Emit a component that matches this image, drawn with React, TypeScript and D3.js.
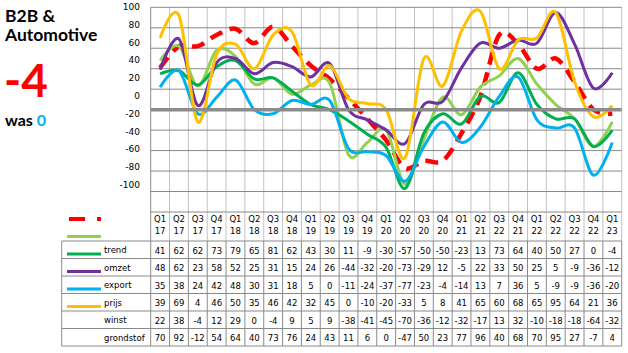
import * as d3 from 'd3';

const categories = [
  'Q1 17', 'Q2 17', 'Q3 17', 'Q4 17', 'Q1 18', 'Q2 18', 'Q3 18', 'Q4 18', 'Q1 19', 'Q2 19', 'Q3 19', 'Q4 19',
  'Q1 20', 'Q2 20', 'Q3 20', 'Q4 20', 'Q1 21', 'Q2 21', 'Q3 22', 'Q4 21', 'Q1 22', 'Q2 22', 'Q3 22', 'Q4 22', 'Q1 23',
];

const trend = [41, 62, 62, 73, 79, 65, 81, 62, 43, 30, 11, -9, -30, -57, -50, -50, -23, 13, 73, 64, 40, 50, 27, 0, -4];
const omzet = [48, 62, 23, 58, 52, 25, 31, 15, 24, 26, -44, -32, -20, -73, -29, 12, -5, 22, 33, 50, 25, 5, -9, -36, -12];
const exportV = [35, 38, 24, 42, 48, 30, 31, 18, 5, 0, -11, -24, -37, -77, -23, -4, -14, 13, 7, 36, 5, -9, -9, -36, -20];
const prijs = [39, 69, 4, 46, 50, 35, 46, 42, 32, 45, 0, -10, -20, -33, 5, 8, 41, 65, 60, 68, 65, 95, 64, 21, 36];
const winst = [22, 38, -4, 12, 29, 0, -4, 9, 5, 9, -38, -41, -45, -70, -36, -12, -32, -17, 13, 32, -10, -18, -18, -64, -32];
const grondstof = [70, 92, -12, 54, 64, 40, 73, 76, 24, 43, 11, 6, 0, -47, 50, 23, 77, 96, 40, 68, 70, 95, 27, -7, 4];

const tableRows = ['trend', 'omzet', 'export', 'prijs', 'winst', 'grondstof'];
const tableValues = [trend, omzet, exportV, prijs, winst, grondstof];
const axisLabels = [100, 80, 60, 40, 20, 0, -20, -40, -60, -80, -100];

// plotted series, in Excel draw order
const series = [
  { name: 'trend', values: trend, color: '#FF0000', dashed: true },
  { name: 'omzet', values: omzet, color: '#92D050' },
  { name: 'export', values: exportV, color: '#00B050' },
  { name: 'prijs', values: prijs, color: '#7030A0' },
  { name: 'winst', values: winst, color: '#00B0F0' },
  { name: 'grondstof', values: grondstof, color: '#FFC000' },
];

const W = 628;
const H = 353;
const PLOT_L = 150.7;
const PLOT_R = 621.7;
const PLOT_T = 7.3;
const PLOT_B = 212;
const TABLE_T = 241;
const ROW_H = 17.5;
const LABEL_L = 61.7;
const GRID_H = '#898989';
const GRID_V = '#C3C3C3';
const BORDER = '#8A8A8A';
const TEXT_FONT = 'DejaVu Sans, sans-serif';

export default function App() {
  // index domain: the category texts are not unique ("Q3 22" appears twice)
  const x = d3
    .scaleBand<number>()
    .domain(categories.map((_, i) => i))
    .range([PLOT_L, PLOT_R]);
  const cx = (i: number) => x(i)! + x.bandwidth() / 2;
  const y = d3.scaleLinear().domain([-100, 100]).range([PLOT_B, PLOT_T]);
  // the value labels on the left were a separate text column and sit off the grid
  const labelY = d3.scaleLinear().domain([100, -100]).range([6.7, 185]);

  const line = d3
    .line<number>()
    .x((_, i) => cx(i))
    .y((d) => y(d))
    .curve(d3.curveCardinal.tension(0));

  const gridValues = y.ticks(10);
  const bounds = categories.map((_, i) => x(i)!).concat([PLOT_R]);
  const tableB = TABLE_T + ROW_H * tableRows.length;

  // legend keys are drawn two rows above their labels, as in the source
  const keyY = (i: number) => TABLE_T + ROW_H * (i - 2) + 13;

  return (
    <svg width={W} height={H} style={{ position: 'absolute', left: 0, top: 0, background: '#fff' }}>
      <rect width={W} height={H} fill="#fff" />

      {/* title */}
      <g fontFamily="Lato, sans-serif" fontWeight="bold">
        <text x={5} y={22} fontSize={17.5} fill="#000">B2B &amp;</text>
        <text x={5} y={41} fontSize={17.5} fill="#000">Automotive</text>
        <text x={4} y={97} fontSize={46} fill="#FF0000">-4</text>
        <text x={5} y={126} fontSize={16} fill="#000">
          was <tspan fill="#00B0F0">0</tspan>
        </text>
      </g>

      {/* left labels */}
      <g fontFamily={TEXT_FONT} fontSize={9} fill="#000" textAnchor="end">
        {axisLabels.map((v) => (
          <text key={v} x={140} y={labelY(v)} dy="0.35em">{v}</text>
        ))}
      </g>

      {/* vertical grid through plot and category strip */}
      {bounds.map((bx, i) => (
        <line key={'v' + i} x1={bx} x2={bx} y1={PLOT_T} y2={TABLE_T} stroke={i === 0 ? BORDER : GRID_V} strokeWidth={1} />
      ))}
      {/* horizontal grid */}
      {gridValues.map((v) =>
        v === 0 ? null : (
          <line key={'h' + v} x1={PLOT_L} x2={PLOT_R} y1={y(v)} y2={y(v)} stroke={GRID_H} strokeWidth={1} />
        ),
      )}

      {/* series */}
      {series.map((s) => (
        <path
          key={s.name}
          d={line(s.values) ?? ''}
          fill="none"
          stroke={s.color}
          strokeWidth={s.dashed ? 4.5 : 3}
          strokeDasharray={s.dashed ? '13 8' : undefined}
          strokeLinejoin="round"
        />
      ))}

      {/* zero line */}
      <line x1={PLOT_L} x2={PLOT_R} y1={y(0)} y2={y(0)} stroke="#8C8C8C" strokeWidth={3.5} />

      {/* category labels */}
      <g fontFamily={TEXT_FONT} fontSize={8.5} fill="#000" textAnchor="middle">
        {categories.map((c, i) => {
          const [q, yr] = c.split(' ');
          return (
            <text key={'c' + i} x={cx(i)}>
              <tspan x={cx(i)} y={222}>{q}</tspan>
              <tspan x={cx(i)} y={234}>{yr}</tspan>
            </text>
          );
        })}
      </g>

      {/* data table */}
      {tableRows.map((_, r) => (
        <line key={'rb' + r} x1={LABEL_L} x2={PLOT_R} y1={TABLE_T + ROW_H * r} y2={TABLE_T + ROW_H * r} stroke={BORDER} />
      ))}
      <line x1={LABEL_L} x2={PLOT_R} y1={tableB} y2={tableB} stroke={BORDER} />
      <line x1={LABEL_L} x2={LABEL_L} y1={TABLE_T} y2={tableB} stroke={BORDER} />
      {bounds.map((bx, i) => (
        <line key={'tv' + i} x1={bx} x2={bx} y1={TABLE_T} y2={tableB} stroke={BORDER} />
      ))}

      {/* legend keys */}
      {series.map((s, i) => (
        <line
          key={'k' + s.name}
          x1={s.dashed ? 69 : 67}
          x2={101}
          y1={keyY(i)}
          y2={keyY(i)}
          stroke={s.color}
          strokeWidth={s.dashed ? 4 : 3}
          strokeDasharray={s.dashed ? '16 12' : undefined}
        />
      ))}

      <g fontFamily={TEXT_FONT} fontSize={8.5} fill="#000">
        {tableRows.map((name, r) => (
          <text key={name} x={104} y={TABLE_T + ROW_H * r + 12}>{name}</text>
        ))}
      </g>
      <g fontFamily={TEXT_FONT} fontSize={8.5} fill="#000" textAnchor="middle">
        {tableValues.map((vals, r) =>
          vals.map((v, i) => (
            <text key={r + '-' + i} x={cx(i)} y={TABLE_T + ROW_H * r + 12.5}>{v}</text>
          )),
        )}
      </g>
    </svg>
  );
}
